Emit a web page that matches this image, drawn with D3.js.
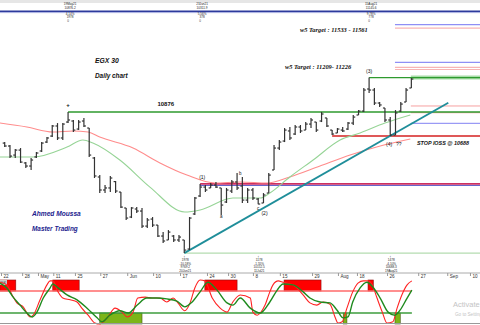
<!DOCTYPE html>
<html>
<head>
<meta charset="utf-8">
<script src="https://cdn.jsdelivr.net/npm/d3@7"></script>
<style>
  body { margin: 0; background: #fff; }
  svg { display: block; font-family: 'Liberation Sans', Arial, sans-serif; }
</style>
</head>
<body>
<script>
// daily OHLC, EGX 30 (bar index 0 = late April 2021)
var barHigh = [10640, 10617, 10585, 10593, 10483, 10515, 10562, 10640, 10679, 10774,
  10789, 10789, 10876.2, 10813, 10813, 10829, 10750, 10523, 10381, 10303,
  10374, 10334, 10248, 10123, 10130, 10130, 10123, 10044, 10052, 9989,
  9934, 9950, 9911, 9911, 9872, 10052, 10209, 10311.9, 10303, 10319,
  10327, 10280, 10280, 10342, 10397, 10366, 10280, 10280, 10201, 10240,
  10397, 10617, 10656, 10750, 10758, 10774, 10774, 10797, 10829, 10797,
  10876, 10829, 10734, 10750, 10758, 10797, 10852, 10891, 11064, 11145.6,
  11064, 10954, 10907, 10836, 10891, 10954, 11064, 11142]
var barLow = [10601, 10515, 10515, 10476, 10436, 10421, 10515, 10562, 10632, 10679,
  10656, 10656, 10789, 10719, 10734, 10758, 10523, 10358, 10240, 10240,
  10248, 10240, 10123, 10029, 10044, 10083, 9966, 9966, 9974, 9895,
  9848, 9872, 9856, 9856, 9769.2, 9793, 10068, 10209, 10248, 10280,
  10280, 10068, 10162, 10240, 10264, 10162, 10162, 10185, 10152.5, 10162,
  10240, 10421, 10577, 10640, 10656, 10695, 10711, 10734, 10750, 10719,
  10797, 10758, 10695, 10711, 10719, 10734, 10774, 10852, 10876, 11025,
  10931, 10915, 10797, 10688.3, 10695, 10876, 10954, 11064]
var barOpen = [10632, 10609, 10538, 10577, 10476, 10452, 10523, 10570, 10640, 10687,
  10766, 10672, 10797, 10805, 10742, 10805, 10750, 10515, 10366, 10264,
  10280, 10330, 10248, 10123, 10052, 10115, 10099, 9981, 10036, 9989,
  9903, 9872, 9903, 9872, 9872, 9801, 10076, 10217, 10287, 10280,
  10303, 10280, 10170, 10256, 10327, 10295, 10185, 10264, 10193, 10162,
  10240, 10421, 10593, 10648, 10727, 10703, 10758, 10734, 10781, 10797,
  10805, 10829, 10734, 10711, 10734, 10742, 10789, 10852, 10883, 11056,
  11048, 10946, 10907, 10813, 10695, 10883, 10954, 11064]
var barClose = [10609, 10530, 10577, 10483, 10452, 10499, 10554, 10632, 10672, 10766,
  10672, 10781, 10813, 10734, 10797, 10766, 10538, 10374, 10264, 10280,
  10358, 10256, 10130, 10044, 10123, 10099, 9981, 10029, 9989, 9903,
  9864, 9934, 9872, 9895, 9793, 10044, 10201, 10287, 10264, 10303,
  10287, 10146, 10264, 10327, 10280, 10185, 10264, 10201, 10154, 10225,
  10381, 10593, 10640, 10734, 10672, 10758, 10727, 10781, 10813, 10734,
  10860, 10766, 10703, 10742, 10727, 10789, 10836, 10883, 11048, 11048,
  10946, 10931, 10813, 10695, 10868, 10938, 11048, 11134]

// moving averages [bar, value]
var maSlow = [[-0.9, 10789], [4.2, 10758], [9.1, 10719], [12.9, 10727], [15.8, 10719], [18, 10679],
  [24.3, 10593], [29.4, 10476], [34.5, 10381], [39.8, 10319], [44.6, 10327], [49.7, 10319],
  [54, 10366], [59.7, 10452], [65.4, 10538], [71.1, 10609], [76.8, 10664]]
var maFast = [[-0.9, 10523], [5.4, 10523], [11.8, 10601], [14.8, 10656], [16.7, 10632], [21.8, 10499],
  [27.5, 10287], [34.1, 10091], [37, 10107], [43.2, 10201], [48.4, 10201], [50.2, 10240],
  [54, 10366], [58.4, 10499], [63.5, 10656], [67.3, 10711], [72, 10789], [76.8, 10852]]

// stochastic %K / %D [bar, value]
var stochK = [[-0.9, 95], [0.4, 89], [1.4, 66], [2.3, 48], [3.5, 39], [4.8, 16], [5.4, 20], [6.7, 55],
  [8, 89], [8.6, 98], [9.1, 98], [10.1, 73], [11, 59], [12.4, 55], [13.7, 50], [14.6, 36], [15.8, 20],
  [17.1, 2], [18, 0], [19.4, 14], [20.9, 36], [22.2, 27], [23.2, 16], [24.3, 27], [25.2, 59], [26.6, 61],
  [27.9, 59], [29.4, 59], [30.7, 50], [31.9, 59], [32.8, 48], [34.1, 30], [35.1, 48], [36, 82], [37, 100],
  [37.9, 98], [39.3, 59], [40.8, 36], [42.1, 27], [43.2, 50], [44.6, 66], [46.5, 59], [47, 27], [47.8, 20],
  [48.4, 25], [49.3, 43], [50.2, 73], [50.8, 89], [51.8, 98], [52.7, 95], [54.6, 89], [56.5, 66], [57.8, 48],
  [59.1, 43], [60.3, 50], [61.6, 45], [62.6, 14], [63.1, 2], [63.9, 5], [64.8, 36], [65.9, 73], [66.9, 93],
  [67.9, 98], [68.8, 98], [69.6, 89], [70.5, 59], [71.5, 27], [72.4, 2], [73.5, 5], [74.3, 36], [75.2, 66],
  [76.2, 89], [77.1, 98]]
var stochD = [[-0.9, 93], [0.4, 82], [1.6, 61], [2.9, 43], [4.2, 25], [5.2, 16], [6.1, 27], [7.3, 59],
  [8.6, 82], [9.1, 91], [10.1, 82], [11.8, 66], [13.7, 55], [15.6, 36], [17.5, 14], [18.4, 5], [19.9, 20],
  [21.8, 30], [23.4, 25], [25.1, 43], [26.9, 59], [28.8, 59], [30.7, 57], [32.6, 52], [34.1, 39], [35.5, 50],
  [37, 73], [38.5, 95], [40.2, 77], [42.1, 48], [43.2, 43], [44.6, 59], [46.5, 36], [48.4, 25], [50.2, 50],
  [51.6, 77], [52.7, 91], [54.6, 89], [56.5, 73], [57.8, 59], [59.7, 50], [61.6, 48], [62.9, 32], [64.1, 14],
  [65, 16], [65.9, 50], [67.3, 82], [68.6, 95], [69.7, 84], [71.1, 59], [72.6, 27], [73.9, 20], [74.9, 32],
  [76.2, 59], [77.1, 77]]
var stochLevels = [75, 25]
var hotZones = [[-0.9, 2.1], [9.1, 14.1], [37.9, 44], [52.9, 59.9], [68.8, 69.8]]
var coldZones = [[18, 26], [64.1, 64.8], [73.9, 74.9]]

// date axis
var tickAt = [-0.7, 3.3, 6.3, 9.2, 13.3, 18.1, 23.2, 28.1, 33.2, 38.3, 42.3, 47, 52.1, 58.2, 63.1, 66.7, 72.4, 78.3, 83.8, 88.1]
var tickText = ['22', '28', 'May', '11', '25', '27', 'Jun', '10', '17', '24', '30', '8', '15', '29', 'Aug', '18', '26', '27', 'Sep', '10']

// swing points
var swingHighs = [
  {bar: 12, date: '19May21', price: 10876.2, pct: '4.14%', n: '1978'},
  {bar: 37, date: '23Jun21', price: 10311.9, pct: '5.56%', n: '378'},
  {bar: 69, date: '15Aug21', price: 11145.6, pct: '9.78%', n: '778'}]
var swingLows = [
  {bar: 34, date: '20Jun21', price: 9769.2, pct: '-10.18%', n: '1978'},
  {bar: 48, date: '11Jul21', price: 10152.5, pct: '-1.55%', n: '1178'},
  {bar: 73, date: '19Aug21', price: 10688.3, pct: '-4.10%', n: '1478'}]

var resistance = 10876
var stopLoss = 10688.3
var upperTargets = [11561, 11265]
var upperTargetsPink = [11533, 11226, 11209]
var nearPink = [10923, 10870]
var nearBlue = [10787]
var trendEnd = 84

var W = 480, H = 325
var x = d3.scaleLinear().domain([-0.89, 90]).range([0, W])
var y = d3.scaleLinear().domain([9621, 11754]).range([272, 0])
var yo = d3.scaleLinear().domain([0, 100]).range([324, 280])

var svg = d3.select('body').append('svg').attr('width', W).attr('height', H)

function hline(v, from, color, w) {
  svg.append('line')
    .attr('x1', x(from)).attr('x2', W)
    .attr('y1', y(v)).attr('y2', y(v))
    .style('stroke', color).style('stroke-width', w)
}
function txt(px, py, s, size, o) {
  o = o || {}
  return svg.append('text')
    .attr('x', px).attr('y', py)
    .attr('font-size', size)
    .attr('font-weight', o.bold ? 'bold' : null)
    .attr('font-style', o.italic ? 'italic' : null)
    .attr('font-family', o.family || null)
    .attr('text-anchor', o.anchor || 'start')
    .style('fill', o.fill || '#111')
    .text(s)
}

// toolbar strip and the top rule
svg.append('rect').attr('width', W).attr('height', 3).style('fill', '#e6e6e6')
svg.append('line').attr('x1', 0).attr('x2', W).attr('y1', 11.3).attr('y2', 11.3)
  .style('stroke', '#2d3a9c').style('stroke-width', 1.4)
svg.append('line').attr('x1', 0).attr('x2', W).attr('y1', 12.6).attr('y2', 12.6)
  .style('stroke', '#8f98d8').style('stroke-width', 0.8)

// projection levels on the right
upperTargets.forEach(function(v) { hline(v, 73.9, '#8f8ff5', 1.2) })
upperTargetsPink.forEach(function(v) { hline(v, 73.9, '#f8b4b4', 1.2) })
nearPink.forEach(function(v) { hline(v, 76.9, '#f6a0a0', 1) })
nearBlue.forEach(function(v) { hline(v, 76.9, '#9a9af5', 1.2) })
hline(swingHighs[2].price, 76.9, '#a8dca8', 4)
hline(swingHighs[2].price, swingHighs[2].bar, '#2e9a2e', 1.3)
hline(resistance, swingHighs[0].bar, '#2e9a2e', 1.5)
hline(stopLoss, 62, '#d42020', 1.5)
hline(swingLows[0].price, swingLows[0].bar, '#b4dcb0', 1.3)
hline(swingHighs[1].price - 12, swingHighs[1].bar, '#5a5ac8', 1)
hline(swingHighs[1].price, swingHighs[1].bar, '#cc2f62', 1.8)

// moving averages
var maLine = d3.line()
  .curve(d3.curveMonotoneX)
  .x(function(d) { return x(d[0]) })
  .y(function(d) { return y(d[1]) })
svg.append('path').datum(maSlow).attr('d', maLine)
  .style('fill', 'none').style('stroke', '#ff8c8c').style('stroke-width', 1.1)
svg.append('path').datum(maFast).attr('d', maLine)
  .style('fill', 'none').style('stroke', '#96d496').style('stroke-width', 1.1)

// trend line through lows 1 and 4
var a = swingLows[0], b = swingLows[2]
var slope = (b.price - a.price) / (b.bar - a.bar)
svg.append('line')
  .attr('x1', x(a.bar)).attr('y1', y(a.price))
  .attr('x2', x(trendEnd)).attr('y2', y(b.price + slope * (trendEnd - b.bar)))
  .style('stroke', '#1f8e9a').style('stroke-width', 1.8)

// OHLC bars
var bars = svg.append('g').style('stroke', '#333').style('stroke-width', 1.2)
barHigh.forEach(function(h, i) {
  var cx = x(i)
  bars.append('line').attr('x1', cx).attr('x2', cx).attr('y1', y(h)).attr('y2', y(barLow[i]))
  bars.append('line').attr('x1', cx - 2).attr('x2', cx).attr('y1', y(barOpen[i])).attr('y2', y(barOpen[i]))
  bars.append('line').attr('x1', cx).attr('x2', cx + 2).attr('y1', y(barClose[i])).attr('y2', y(barClose[i]))
})

// swing annotations
swingHighs.forEach(function(d) {
  var cx = x(d.bar) + 2
  txt(cx, 5.2, d.date, 3.1, {anchor: 'middle', fill: '#222'})
  txt(cx, 8.7, d.price.toFixed(1), 3.1, {anchor: 'middle', fill: '#222'})
  txt(cx, 14.8, d.pct, 3.1, {anchor: 'middle', fill: '#222'})
  txt(cx, 18.3, d.n, 3.1, {anchor: 'middle', fill: '#222'})
  txt(x(d.bar), 21.8, '0', 3.1, {anchor: 'middle', fill: '#444'})
})
swingLows.forEach(function(d) {
  var cx = x(d.bar) + 1
  txt(x(d.bar), 257.6, '↑', 4, {anchor: 'middle', fill: '#333'})
  txt(cx, 261.2, d.n, 3.1, {anchor: 'middle', fill: '#222'})
  txt(cx, 264.7, d.pct, 3.1, {anchor: 'middle', fill: '#222'})
  txt(cx, 268.2, d.price.toFixed(1), 3.1, {anchor: 'middle', fill: '#222'})
  txt(cx, 271.7, d.date, 3.1, {anchor: 'middle', fill: '#222'})
})

// wave labels
txt(x(12), y(barHigh[12]) - 5, '+', 6, {anchor: 'middle', bold: true})
txt(x(37.4), y(barHigh[37]) - 4.5, '(1)', 5, {anchor: 'middle', fill: '#111'})
txt(x(49.2), y(barLow[48]) + 11, '(2)', 5, {anchor: 'middle'})
txt(x(69), y(barHigh[69]) - 5, '(3)', 5, {anchor: 'middle'})
txt(x(72.8), y(stopLoss) + 10, '(4)', 5, {anchor: 'middle'})
txt(x(74.6), y(stopLoss) + 10, '??', 5, {anchor: 'middle'})
txt(x(41), y(barLow[41]) + 3.5, 'a', 4.5, {anchor: 'middle'})
txt(x(44.6), y(barHigh[44]) + 1.5, 'b', 4.5, {anchor: 'middle'})
txt(x(48), y(barLow[48]) + 5.5, 'c', 4.5, {anchor: 'middle'})

// titles and notes
txt(95, 63, 'EGX 30', 6.8, {bold: true, italic: true})
txt(95, 78, 'Daily chart', 6.4, {bold: true, italic: true})
txt(x(30.5), y(resistance) - 6, '10876', 6, {anchor: 'middle', bold: true})
txt(300, 31.5, 'w5 Target : 11533 - 11561', 6.4, {bold: true, italic: true, family: "'Liberation Serif', serif"})
txt(285, 68.5, 'w5 Target : 11209- 11226', 6.4, {bold: true, italic: true, family: "'Liberation Serif', serif"})
txt(417, y(stopLoss) + 9.5, 'STOP lOSS @ 10688', 5.4, {bold: true, italic: true})
txt(32, 215.5, 'Ahmed Moussa', 6.6, {bold: true, italic: true, fill: '#1c1c8e'})
txt(32, 231, 'Master Trading', 6.4, {bold: true, italic: true, fill: '#1c1c8e'})

// date axis
var axis = svg.append('g')
  .attr('transform', 'translate(0,273)')
  .call(d3.axisBottom(x).tickValues(tickAt).tickSize(3)
    .tickFormat(function(d, i) { return tickText[i] }))
axis.select('.domain').style('stroke', '#aaa').attr('d', 'M0,0H' + W)
axis.selectAll('.tick line').style('stroke', '#999')
axis.selectAll('.tick text')
  .attr('text-anchor', 'start').attr('x', 2).attr('y', 2).attr('dy', '0.71em')
  .attr('font-size', 4.6).style('fill', '#333')

// stochastic panel
hotZones.forEach(function(z) {
  svg.append('rect')
    .attr('x', x(z[0])).attr('width', x(z[1]) - x(z[0]))
    .attr('y', 280).attr('height', yo(stochLevels[0]) - 280)
    .style('fill', '#ff0000').style('stroke', '#8a1010').style('stroke-width', 0.6)
})
coldZones.forEach(function(z) {
  svg.append('rect')
    .attr('x', x(z[0])).attr('width', x(z[1]) - x(z[0]))
    .attr('y', yo(stochLevels[1])).attr('height', 324 - yo(stochLevels[1]))
    .style('fill', '#7cb518').style('stroke', '#445a10').style('stroke-width', 0.6)
})
svg.append('rect').attr('x', 0).attr('y', 280).attr('width', 7).attr('height', 5).style('fill', '#ccc')
txt(0.5, 284, '%K', 3.6, {fill: '#333'})
svg.append('line').attr('x1', 0).attr('x2', x(77.1))
  .attr('y1', yo(stochLevels[0])).attr('y2', yo(stochLevels[0]))
  .style('stroke', '#ff6a6a').style('stroke-width', 1.4)
svg.append('line').attr('x1', 0).attr('x2', x(77.1))
  .attr('y1', yo(stochLevels[1])).attr('y2', yo(stochLevels[1]))
  .style('stroke', '#3c9c3c').style('stroke-width', 1.4)
var oscLine = d3.line()
  .curve(d3.curveMonotoneX)
  .x(function(d) { return x(d[0]) })
  .y(function(d) { return yo(d[1]) })
svg.append('path').datum(stochK).attr('d', oscLine)
  .style('fill', 'none').style('stroke', '#ff2222').style('stroke-width', 1.1)
svg.append('path').datum(stochD).attr('d', oscLine)
  .style('fill', 'none').style('stroke', '#1e8a1e').style('stroke-width', 1.4)
svg.append('line').attr('x1', 0).attr('x2', W).attr('y1', 323.5).attr('y2', 323.5)
  .style('stroke', '#999').style('stroke-width', 1)

// os watermark, cut by the right edge as in the screenshot
txt(453, 306.5, 'Activate Windows', 7.5, {fill: '#c4c4c4'})
txt(455, 315.5, 'Go to Settings to activate Windows.', 4.6, {fill: '#c4c4c4'})
</script>
</body>
</html>
